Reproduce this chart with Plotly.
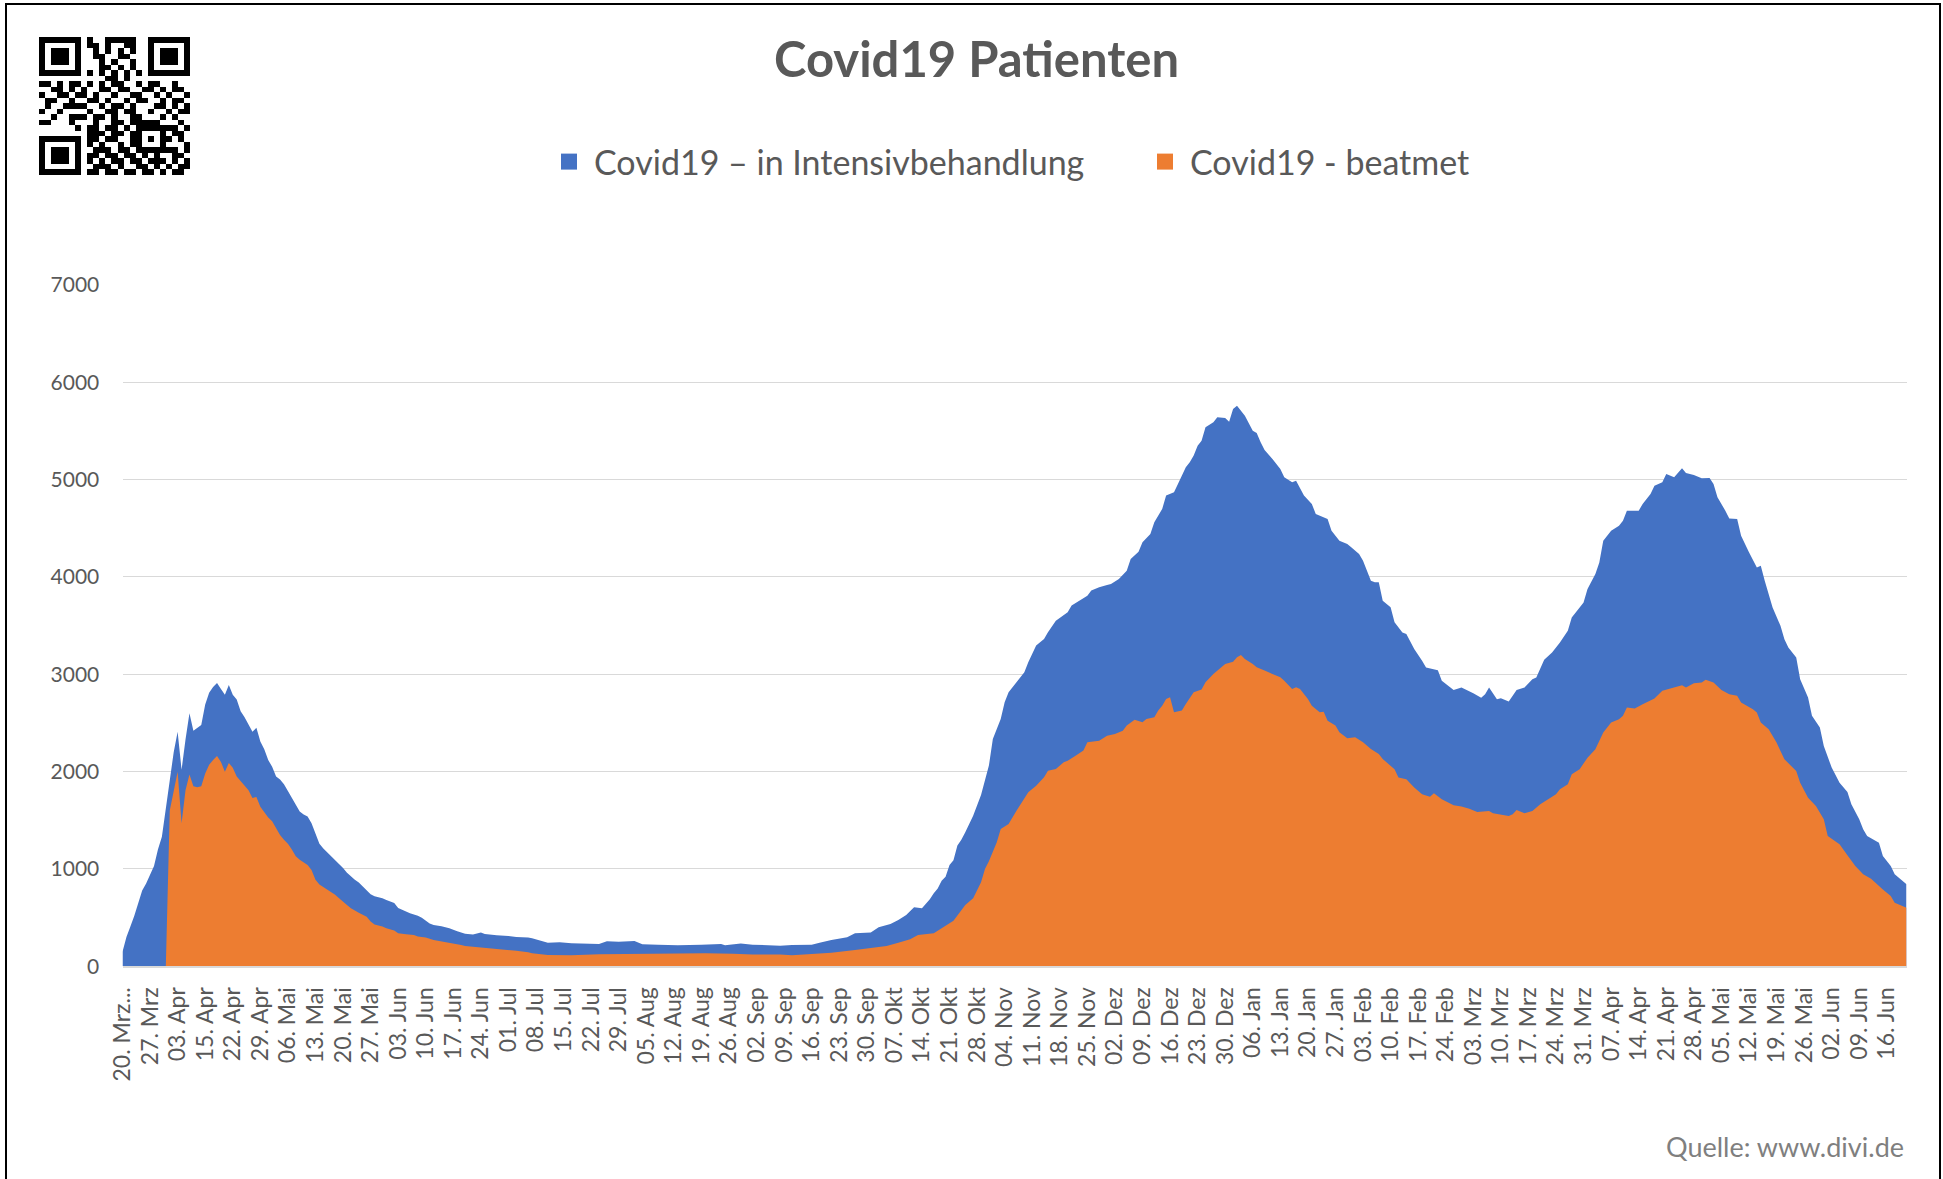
import plotly.graph_objects as go

W, H = 1943, 1179

# ---------------- data ----------------
tick_labels = [
    "20. Mrz...", "27. Mrz", "03. Apr", "15. Apr", "22. Apr", "29. Apr", "06. Mai", "13. Mai",
    "20. Mai", "27. Mai", "03. Jun", "10. Jun", "17. Jun", "24. Jun", "01. Jul", "08. Jul",
    "15. Jul", "22. Jul", "29. Jul", "05. Aug", "12. Aug", "19. Aug", "26. Aug", "02. Sep",
    "09. Sep", "16. Sep", "23. Sep", "30. Sep", "07. Okt", "14. Okt", "21. Okt", "28. Okt",
    "04. Nov", "11. Nov", "18. Nov", "25. Nov", "02. Dez", "09. Dez", "16. Dez", "23. Dez",
    "30. Dez", "06. Jan", "13. Jan", "20. Jan", "27. Jan", "03. Feb", "10. Feb", "17. Feb",
    "24. Feb", "03. Mrz", "10. Mrz", "17. Mrz", "24. Mrz", "31. Mrz", "07. Apr", "14. Apr",
    "21. Apr", "28. Apr", "05. Mai", "12. Mai", "19. Mai", "26. Mai", "02. Jun", "09. Jun",
    "16. Jun",
]
tick_step = 7          # one label every 7th category
last_day = 453         # index of the last category

# Covid19 – in Intensivbehandlung (category index, patients)
icu_day = [
    0, 1, 2, 3, 5, 6, 8, 9, 10, 11,
    12, 13, 14, 15, 16, 17, 18, 19, 20, 21,
    22, 23, 24, 25, 26, 27, 28, 29, 30, 31,
    32, 33, 34, 35, 36, 37, 38, 39, 40, 41,
    42, 43, 44, 45, 46, 47, 48, 49, 50, 51,
    52, 53, 54, 55, 56, 57, 58, 59, 60, 61,
    62, 63, 64, 66, 67, 69, 70, 71, 73, 75,
    76, 78, 79, 81, 83, 85, 87, 89, 91, 92,
    95, 98, 100, 103, 104, 108, 111, 114, 118, 121,
    123, 126, 130, 132, 136, 141, 147, 152, 153, 157,
    160, 164, 167, 170, 175, 177, 180, 184, 186, 190,
    192, 195, 197, 199, 201, 203, 205, 206, 207, 208,
    209, 210, 211, 212, 213, 214, 216, 218, 219, 220,
    221, 223, 224, 225, 227, 229, 230, 232, 234, 235,
    237, 239, 240, 241, 243, 245, 246, 248, 250, 251,
    253, 255, 256, 258, 259, 261, 262, 264, 265, 267,
    268, 270, 271, 272, 273, 274, 275, 277, 278, 280,
    281, 282, 283, 284, 285, 287, 288, 289, 290, 292,
    294, 295, 297, 298, 300, 302, 303, 306, 307, 309,
    311, 312, 314, 315, 317, 318, 319, 320, 322, 323,
    325, 326, 328, 330, 331, 334, 335, 338, 340, 343,
    345, 346, 347, 349, 350, 352, 354, 356, 358, 359,
    361, 363, 365, 367, 368, 370, 371, 372, 374, 375,
    376, 378, 380, 381, 382, 385, 386, 388, 389, 391,
    392, 394, 395, 396, 397, 399, 401, 403, 404, 405,
    407, 408, 410, 411, 413, 415, 416, 417, 419, 421,
    422, 423, 425, 426, 428, 429, 431, 432, 434, 436,
    438, 439, 441, 442, 443, 446, 447, 449, 450, 453,
]
icu_value = [
    150, 300, 410, 520, 780, 850, 1030, 1200, 1330, 1620,
    1950, 2200, 2410, 2020, 2330, 2600, 2420, 2450, 2480, 2690,
    2810, 2870, 2910, 2850, 2790, 2890, 2790, 2740, 2620, 2560,
    2480, 2410, 2450, 2310, 2230, 2120, 2050, 1950, 1920, 1870,
    1800, 1730, 1650, 1590, 1560, 1540, 1470, 1360, 1260, 1210,
    1170, 1140, 1100, 1050, 1010, 960, 920, 890, 860, 820,
    780, 740, 720, 700, 680, 650, 600, 580, 545, 520,
    500, 440, 425, 412, 390, 360, 335, 328, 346, 332,
    318, 312, 302, 295, 287, 243, 246, 236, 236, 229,
    257, 253, 260, 226, 222, 215, 222, 229, 215, 233,
    222, 212, 212, 219, 222, 243, 270, 298, 339, 346,
    401, 435, 476, 527, 606, 596, 690, 750, 800, 880,
    920, 1040, 1090, 1240, 1300, 1377, 1548, 1760, 1925, 2062,
    2336, 2541, 2712, 2815, 2918, 3021, 3123, 3295, 3363, 3432,
    3551, 3603, 3637, 3706, 3757, 3808, 3860, 3894, 3918, 3928,
    3979, 4065, 4185, 4260, 4356, 4442, 4562, 4699, 4836, 4870,
    4955, 5127, 5178, 5247, 5349, 5401, 5538, 5589, 5640, 5634,
    5596, 5726, 5760, 5709, 5657, 5503, 5479, 5384, 5305, 5212,
    5110, 5024, 4973, 4990, 4836, 4750, 4647, 4596, 4476, 4373,
    4339, 4305, 4236, 4168, 3962, 3945, 3945, 3757, 3690, 3534,
    3430, 3413, 3259, 3139, 3070, 3043, 2933, 2840, 2864, 2806,
    2758, 2796, 2864, 2744, 2755, 2720, 2840, 2864, 2950, 2967,
    3149, 3224, 3327, 3447, 3584, 3687, 3738, 3876, 4030, 4150,
    4373, 4476, 4527, 4578, 4681, 4681, 4750, 4853, 4938, 4973,
    5058, 5024, 5075, 5117, 5069, 5048, 5014, 5017, 4955, 4818,
    4681, 4602, 4596, 4424, 4253, 4098, 4116, 3961, 3687, 3499,
    3361, 3276, 3173, 2950, 2762, 2573, 2453, 2264, 2042, 1887,
    1791, 1665, 1510, 1407, 1339, 1270, 1133, 1030, 945, 842,
]

# Covid19 - beatmet (category index, patients)
vent_day = [
    0, 11, 12, 13, 14, 15, 16, 17, 18,
    19, 20, 21, 22, 23, 24, 25, 26, 27, 28,
    29, 30, 31, 32, 33, 34, 35, 36, 37, 38,
    39, 40, 41, 42, 43, 44, 45, 46, 47, 48,
    49, 50, 51, 52, 53, 54, 55, 56, 57, 58,
    59, 60, 61, 62, 63, 64, 66, 67, 69, 70,
    72, 74, 75, 77, 79, 80, 82, 84, 86, 87,
    89, 91, 92, 95, 97, 100, 103, 104, 108, 114,
    121, 126, 134, 143, 148, 155, 160, 167, 170, 175,
    180, 186, 190, 194, 197, 200, 202, 206, 208, 211,
    214, 216, 218, 219, 220, 222, 223, 225, 227, 229,
    230, 232, 234, 235, 237, 239, 240, 242, 244, 245,
    247, 248, 250, 252, 254, 255, 257, 259, 260, 262,
    263, 264, 265, 266, 267, 269, 270, 272, 274, 275,
    277, 279, 280, 282, 283, 284, 285, 287, 288, 290,
    292, 294, 295, 297, 298, 299, 301, 302, 304, 305,
    306, 308, 309, 311, 313, 315, 317, 319, 320, 322,
    323, 324, 326, 328, 330, 332, 333, 335, 338, 340,
    342, 344, 347, 348, 352, 353, 354, 356, 358, 360,
    362, 364, 365, 367, 368, 370, 372, 374, 376, 378,
    380, 381, 382, 384, 386, 388, 389, 391, 393, 394,
    396, 397, 399, 401, 402, 404, 406, 408, 410, 411,
    414, 415, 416, 418, 420, 422, 425, 426, 428, 430,
    432, 433, 436, 438, 440, 442, 444, 447, 449, 450,
    453,
]
vent_value = [
    0, 0, 1600, 1800, 2000, 1470, 1810, 1970, 1850,
    1840, 1850, 1980, 2070, 2120, 2160, 2100, 2000, 2090, 2040,
    1950, 1900, 1860, 1810, 1730, 1740, 1640, 1580, 1530, 1490,
    1420, 1350, 1300, 1260, 1200, 1130, 1095, 1070, 1040, 990,
    890, 840, 815, 790, 767, 735, 700, 660, 630, 596,
    570, 550, 530, 510, 460, 430, 408, 391, 367, 340,
    329, 322, 305, 295, 271, 264, 254, 236, 219, 209,
    202, 192, 192, 185, 175, 160, 145, 134, 116, 113,
    123, 126, 126, 130, 133, 130, 120, 120, 113, 126,
    140, 168, 185, 209, 243, 277, 322, 339, 390, 469,
    630, 700, 863, 1000, 1080, 1274, 1411, 1462, 1599, 1719,
    1788, 1856, 1942, 2010, 2027, 2096, 2113, 2164, 2216, 2301,
    2308, 2318, 2370, 2387, 2421, 2473, 2534, 2507, 2541, 2558,
    2627, 2678, 2747, 2764, 2610, 2627, 2695, 2815, 2843, 2918,
    3003, 3068, 3106, 3130, 3175, 3199, 3158, 3106, 3072, 3038,
    3000, 2969, 2935, 2849, 2866, 2849, 2747, 2678, 2610, 2616,
    2524, 2473, 2404, 2342, 2353, 2301, 2233, 2182, 2130, 2060,
    2025, 1939, 1922, 1836, 1767, 1743, 1778, 1716, 1654, 1641,
    1620, 1586, 1596, 1572, 1545, 1562, 1606, 1572, 1596, 1665,
    1716, 1767, 1819, 1870, 1973, 2024, 2144, 2230, 2401, 2504,
    2539, 2573, 2659, 2648, 2693, 2727, 2751, 2830, 2854, 2864,
    2888, 2864, 2909, 2916, 2943, 2916, 2840, 2796, 2779, 2710,
    2642, 2607, 2504, 2436, 2299, 2127, 2007, 1887, 1733, 1647,
    1510, 1339, 1254, 1140, 1030, 945, 900, 790, 722, 654,
    602,
]

series_names = ["Covid19 – in Intensivbehandlung", "Covid19 - beatmet"]

# QR code modules (25 x 25); function patterns are redrawn below
qr_rows = [
    "00000000" "100111110" "00000000",
    "00000000" "110100110" "00000000",
    "00000000" "010101010" "00000000",
    "00000000" "011001100" "00000000",
    "00000000" "001010010" "00000000",
    "00000000" "001101010" "00000000",
    "00000000" "101010101" "00000000",
    "00000000" "000110100" "00000000",
    "11010110" "101011001" "01100100",
    "00110101" "001101100" "11010110",
    "10011011" "010010011" "00101001",
    "01100100" "110100101" "10010110",
    "01001101" "001011010" "00110101",
    "10010010" "100110110" "01001011",
    "00100111" "011010011" "00010100",
    "11000110" "010011011" "11100010",
    "00000000" "110110101" "00001101",
    "00000000" "011011010" "01010110",
    "00000000" "110110011" "01011010",
    "00000000" "101001011" "00110001",
    "00000000" "011101100" "01011101",
    "00000000" "110110110" "10100110",
    "00000000" "101011011" "01110101",
    "00000000" "011101001" "10101011",
    "00000000" "110110110" "11010110",
]


def build_qr(rows):
    n = 25
    m = [[int(c) for c in (r + "0" * n)[:n]] for r in rows]

    def finder(r0, c0):
        for r in range(-1, 8):
            for c in range(-1, 8):
                rr, cc = r0 + r, c0 + c
                if 0 <= rr < n and 0 <= cc < n:
                    if 0 <= r <= 6 and 0 <= c <= 6:
                        on = r in (0, 6) or c in (0, 6) or (2 <= r <= 4 and 2 <= c <= 4)
                        m[rr][cc] = 1 if on else 0
                    else:
                        m[rr][cc] = 0

    finder(0, 0)
    finder(0, 18)
    finder(18, 0)
    for i in range(8, 17):
        m[6][i] = 1 if i % 2 == 0 else 0
        m[i][6] = 1 if i % 2 == 0 else 0
    for r in range(-2, 3):
        for c in range(-2, 3):
            m[18 + r][18 + c] = 0 if max(abs(r), abs(c)) == 1 else 1
    m[17][8] = 1
    return m


# ---------------- style ----------------
BLUE = "#4472C4"
ORANGE = "#ED7D31"
TEXT = "#595959"
GRID = "#D9D9D9"
FONT = "Lato, 'Open Sans', sans-serif"


def px_x(x):
    return x / W


def px_y(y):
    return 1 - y / H


fig = go.Figure()

fig.add_trace(go.Scatter(
    x=icu_day, y=icu_value, mode="lines", line=dict(width=0, color=BLUE),
    fill="tozeroy", fillcolor=BLUE, showlegend=False, hoverinfo="skip",
    name=series_names[0]))
fig.add_trace(go.Scatter(
    x=vent_day, y=vent_value, mode="lines", line=dict(width=0, color=ORANGE),
    fill="tozeroy", fillcolor=ORANGE, showlegend=False, hoverinfo="skip",
    name=series_names[1]))

# legend entries with square symbols
for name, col in zip(series_names, [BLUE, ORANGE]):
    fig.add_trace(go.Scatter(
        x=[None], y=[None], mode="markers", name=name,
        marker=dict(symbol="square", size=21, color=col)))

fig.add_trace(go.Heatmap(
    z=build_qr(qr_rows), xaxis="x2", yaxis="y2", zmin=0, zmax=1,
    colorscale=[[0, "white"], [1, "black"]], showscale=False, hoverinfo="skip"))

fig.update_layout(
    width=W, height=H,
    margin=dict(l=0, r=0, t=0, b=0),
    paper_bgcolor="white", plot_bgcolor="white",
    font=dict(family=FONT, color=TEXT),
    xaxis=dict(
        domain=[px_x(122.5), px_x(1906.5)], range=[0, last_day],
        tickmode="array",
        tickvals=[i * tick_step for i in range(len(tick_labels))],
        ticktext=tick_labels, tickangle=-90,
        tickfont=dict(size=23, color=TEXT, family=FONT),
        ticks="outside", ticklen=10, tickcolor="rgba(0,0,0,0)",
        showgrid=False, showline=True, linecolor=GRID, linewidth=1.5,
        zeroline=False, automargin=False, fixedrange=True),
    yaxis=dict(
        domain=[px_y(966.3), px_y(285)], range=[0, 7000],
        tick0=0, dtick=1000, tickformat="d",
        tickfont=dict(size=21, color=TEXT, family=FONT),
        ticks="outside", ticklen=18, tickcolor="rgba(0,0,0,0)",
        showgrid=True, gridcolor=GRID, gridwidth=1.3,
        zeroline=False, showline=False, automargin=False, fixedrange=True),
    xaxis2=dict(domain=[px_x(39), px_x(190)], anchor="y2", visible=False,
                range=[-0.5, 24.5], fixedrange=True),
    yaxis2=dict(domain=[px_y(175), px_y(37)], anchor="x2", visible=False,
                range=[24.5, -0.5], fixedrange=True),
    legend=dict(
        orientation="h", x=px_x(1140), xanchor="center",
        y=px_y(162), yanchor="middle",
        font=dict(size=34, color=TEXT, family=FONT), itemwidth=40,
        bgcolor="rgba(0,0,0,0)", entrywidth=541, entrywidthmode="pixels"),
    showlegend=True,
    annotations=[
        dict(text="<b>Covid19 Patienten</b>", x=px_x(976), y=px_y(58),
             xref="paper", yref="paper", xanchor="center", yanchor="middle",
             showarrow=False, font=dict(size=49, color=TEXT, family=FONT)),
        dict(text="Quelle: www.divi.de", x=px_x(1906), y=px_y(1146),
             xref="paper", yref="paper", xanchor="right", yanchor="middle",
             showarrow=False, font=dict(size=27, color="#7F7F7F", family=FONT)),
    ],
    shapes=[
        dict(type="rect", xref="paper", yref="paper",
             x0=px_x(6), x1=px_x(1940), y0=-0.05, y1=px_y(4),
             line=dict(color="black", width=2), fillcolor="rgba(0,0,0,0)",
             layer="above"),
    ],
)

fig.write_html("out.html", config={"displayModeBar": False},
               post_script="document.body.style.margin='0px';")
